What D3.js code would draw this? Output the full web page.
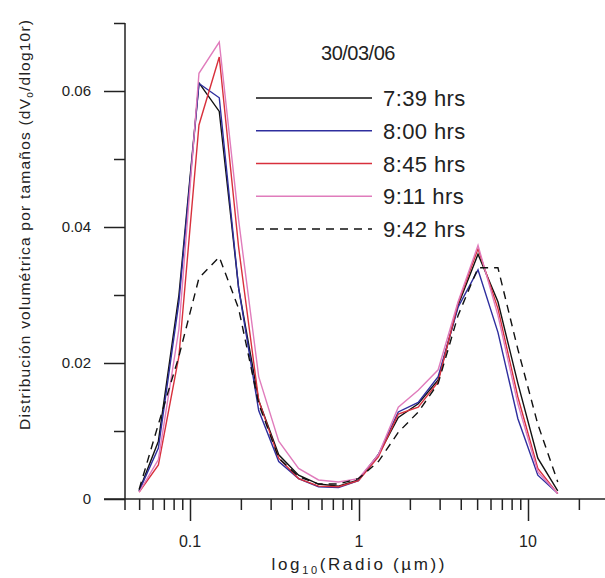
<!DOCTYPE html>
<html><head><meta charset="utf-8">
<script src="https://cdn.jsdelivr.net/npm/d3@7"></script>
<style>html,body{margin:0;padding:0;background:#fff}svg{display:block}</style>
</head><body>
<svg id="c" width="605" height="578"></svg>
<script>
const radius = [0.050,0.065,0.086,0.113,0.149,0.194,0.255,0.335,0.439,0.576,0.756,0.992,1.302,1.708,2.241,2.940,3.857,5.061,6.641,8.713,11.43,15.0];
const s0739 = [0.0012,0.0085,0.030,0.0612,0.0570,0.031,0.0145,0.0065,0.0035,0.0022,0.0019,0.0028,0.0065,0.0120,0.0140,0.0175,0.0285,0.0360,0.0290,0.0170,0.0060,0.0012];
const s0800 = [0.0012,0.0075,0.029,0.0611,0.0590,0.031,0.0130,0.0055,0.0030,0.0018,0.0017,0.0027,0.0065,0.0128,0.0142,0.0180,0.0282,0.0337,0.0245,0.0118,0.0035,0.0008];
const s0845 = [0.0010,0.0050,0.021,0.0550,0.0650,0.037,0.0145,0.0060,0.0030,0.0019,0.0018,0.0027,0.0062,0.0125,0.0135,0.0172,0.0288,0.0368,0.0280,0.0150,0.0045,0.0008];
const s0911 = [0.0010,0.0058,0.025,0.0626,0.0672,0.041,0.0180,0.0085,0.0045,0.0028,0.0025,0.0030,0.0065,0.0135,0.0160,0.0190,0.0290,0.0373,0.0270,0.0140,0.0040,0.0008];
const s0942 = [0.0014,0.0110,0.021,0.0325,0.0356,0.028,0.0140,0.0060,0.0033,0.0022,0.0022,0.0030,0.0055,0.0098,0.0128,0.0170,0.0270,0.0340,0.0340,0.0220,0.0110,0.0025];
const seriesNames = ["7:39 hrs","8:00 hrs","8:45 hrs","9:11 hrs","9:42 hrs"];
const seriesValues = [s0739,s0800,s0845,s0911,s0942];
const colors = ["#111111","#2e2e9e","#d8303c","#e07cbc","#111111"];
const dashes = [null,null,null,null,"8,6"];
const xMajor = [0.1,1,10];
const xMinor = [0.05,0.06,0.07,0.08,0.09,0.2,0.3,0.4,0.5,0.6,0.7,0.8,0.9,2,3,4,5,6,7,8,9,20];
const xLabels = ["0.1","1","10"];
const yMajor = [0,0.02,0.04,0.06];
const yMinor = [0.01,0.03,0.05,0.07];
const yLabels = ["0","0.02","0.04","0.06"];
const title = "30/03/06";

const svg = d3.select("#c");
const x = d3.scaleLog().domain([0.1,10]).range([190,528]);
const y = d3.scaleLinear().domain([0,0.07]).range([499,23]);
const axisColor = "#222";
const font = "'Liberation Sans', Arial, sans-serif";

// x axis
const gx = svg.append("g").attr("transform","translate(0,"+y(0)+")");
gx.append("g").call(d3.axisBottom(x).tickValues(xMajor).tickSize(22).tickFormat(""))
  .call(g=>g.select(".domain").remove());
gx.append("g").call(d3.axisBottom(x).tickValues(xMinor).tickSize(11).tickFormat(""))
  .call(g=>g.select(".domain").remove());
gx.selectAll(".tick line").attr("stroke",axisColor).attr("stroke-width",1.5);
gx.append("line").attr("x1",104).attr("x2",605).attr("y1",0).attr("y2",0).attr("stroke",axisColor).attr("stroke-width",1.5);

// y axis
const gy = svg.append("g").attr("transform","translate(125,0)");
gy.append("g").call(d3.axisLeft(y).tickValues(yMajor).tickSize(21).tickFormat(""))
  .call(g=>g.select(".domain").remove());
gy.append("g").call(d3.axisLeft(y).tickValues(yMinor).tickSize(11).tickFormat(""))
  .call(g=>g.select(".domain").remove());
gy.selectAll(".tick line").attr("stroke",axisColor).attr("stroke-width",1.5);
gy.append("line").attr("x1",0).attr("x2",0).attr("y1",y(0.07)).attr("y2",510).attr("stroke",axisColor).attr("stroke-width",1.5);

// tick labels
svg.append("g").selectAll("text").data(xMajor).join("text")
  .attr("x",d=>x(d)).attr("y",547).attr("text-anchor","middle")
  .attr("font-family",font).attr("font-size",16).attr("fill","#222")
  .text((d,i)=>xLabels[i]);
svg.append("g").selectAll("text").data(yMajor).join("text")
  .attr("x",91).attr("y",d=>y(d)+5).attr("text-anchor","end")
  .attr("font-family",font).attr("font-size",15).attr("fill","#222")
  .text((d,i)=>yLabels[i]);

// axis titles
const xt = svg.append("text").attr("x",358).attr("y",570).attr("text-anchor","middle")
  .attr("font-family",font).attr("font-size",17).attr("fill","#222")
  .attr("textLength",173).attr("lengthAdjust","spacing");
xt.append("tspan").text("log");
xt.append("tspan").attr("font-size",11).attr("dy",4).text("10");
xt.append("tspan").attr("dy",-4).text("(Radio (µm))");

const yt = svg.append("text").attr("transform","translate(30,225) rotate(-90)").attr("text-anchor","middle")
  .attr("font-family",font).attr("font-size",15.5).attr("fill","#222")
  .attr("textLength",410).attr("lengthAdjust","spacing");
yt.append("tspan").text("Distribución volumétrica por tamaños (dV");
yt.append("tspan").attr("font-size",10).attr("dy",3).text("o");
yt.append("tspan").attr("dy",-3).text("/dlog10r)");

// lines
const line = d3.line().x((d,i)=>x(radius[i])).y(d=>y(d));
svg.append("g").selectAll("path").data(seriesValues).join("path")
  .attr("d",line).attr("fill","none")
  .attr("stroke",(d,i)=>colors[i]).attr("stroke-width",1.4)
  .attr("stroke-dasharray",(d,i)=>dashes[i]);

// title & legend
svg.append("text").attr("x",358).attr("y",60).attr("text-anchor","middle")
  .attr("font-family",font).attr("font-size",20).attr("letter-spacing",-0.5).attr("fill","#222").text(title);
const rowY = d3.scaleLinear().domain([0,4]).range([98,229]);
const lg = svg.append("g");
seriesNames.forEach((n,i)=>{
  lg.append("line").attr("x1",256).attr("x2",372).attr("y1",rowY(i)).attr("y2",rowY(i))
    .attr("stroke",colors[i]).attr("stroke-width",1.6).attr("stroke-dasharray",dashes[i]);
  lg.append("text").attr("x",383).attr("y",rowY(i)+8).attr("font-family",font)
    .attr("font-size",22).attr("letter-spacing",0.4).attr("fill","#222").text(n);
});
</script>
</body></html>
